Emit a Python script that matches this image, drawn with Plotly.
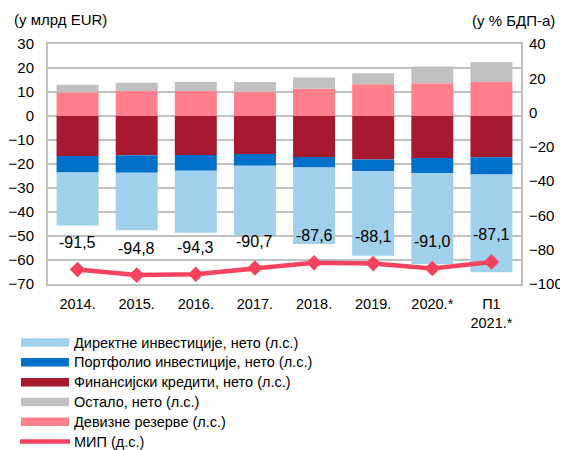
import plotly.graph_objects as go

categories = ["2014.", "2015.", "2016.", "2017.", "2018.", "2019.", "2020.*", "П1<br>2021.*"]
direct_inv = [-22.1, -24.0, -25.8, -28.9, -31.8, -35.3, -37.9, -40.7]
portfolio_inv = [-6.8, -7.2, -6.5, -4.9, -4.4, -4.8, -6.3, -7.2]
fin_credits = [-16.7, -16.4, -16.3, -15.8, -17.1, -18.1, -17.5, -17.2]
other_net = [3.1, 3.5, 3.9, 4.1, 4.6, 4.6, 7.0, 8.3]
fx_reserves = [9.9, 10.4, 10.4, 10.1, 11.4, 13.2, 13.6, 14.2]
mip = [-91.5, -94.8, -94.3, -90.7, -87.6, -88.1, -91.0, -87.1]
mip_labels = ["-91,5", "-94,8", "-94,3", "-90,7", "-87,6", "-88,1", "-91,0", "-87,1"]

names = ["Директне инвестиције, нето (л.с.)", "Портфолио инвестиције, нето (л.с.)",
         "Финансијски кредити, нето (л.с.)", "Остало, нето (л.с.)", "Девизне резерве (л.с.)",
         "МИП (д.с.)"]
colors = ["#A0D0EB", "#0070C8", "#A6192E", "#C0C0C0", "#FF808C", "#F5435F"]

FONT = "Arial, Liberation Sans, sans-serif"
xpos = list(range(len(categories)))

# page body has an 8px margin; design in reference pixels and shift
OFF = 8
W, H = 568 - OFF, 450 - OFF
PL, PR, PT, PB = 48 - OFF, 521 - OFF, 44 - OFF, 284 - OFF  # plot area in figure px
PW, PH = PR - PL, PB - PT


def px(xr):
    return (xr - OFF - PL) / PW


def py(yr):
    return (PB - (yr - OFF)) / PH


fig = go.Figure()

for vals, nm, col in [(fin_credits, names[2], colors[2]),
                      (portfolio_inv, names[1], colors[1]),
                      (direct_inv, names[0], colors[0]),
                      (fx_reserves, names[4], colors[4]),
                      (other_net, names[3], colors[3])]:
    fig.add_trace(go.Bar(x=xpos, y=vals, name=nm, marker_color=col,
                         marker_line_width=0, showlegend=False, yaxis="y"))

fig.add_trace(go.Scatter(x=xpos, y=mip, name=names[5], mode="lines+markers",
                         line=dict(color=colors[5], width=4.5),
                         marker=dict(symbol="diamond", size=12, color=colors[5]),
                         yaxis="y2", showlegend=False))

for xi, v, t in zip(xpos, mip, mip_labels):
    fig.add_annotation(x=xi, y=v, xref="x", yref="y2", text=t, showarrow=False, yshift=27,
                       font=dict(size=16, color="#000000", family=FONT))

# manual legend
row_y = [342.5, 362.3, 382.2, 402.0, 421.8, 441.6]
for i, (nm, col) in enumerate(zip(names, colors)):
    yc = py(row_y[i])
    if i < 5:
        fig.add_shape(type="rect", xref="paper", yref="paper",
                      x0=px(21), x1=px(69), y0=yc - 4.2 / PH, y1=yc + 4.2 / PH,
                      fillcolor=col, line_width=0)
    else:
        fig.add_shape(type="line", xref="paper", yref="paper",
                      x0=px(20), x1=px(70), y0=yc, y1=yc,
                      line=dict(color=col, width=4.5))
    fig.add_annotation(xref="paper", yref="paper", x=px(72), y=yc, text=nm,
                       showarrow=False, xanchor="left", yanchor="middle",
                       font=dict(size=14.5, color="#000000", family=FONT))

fig.add_annotation(xref="paper", yref="paper", x=px(12), y=py(20),
                   text="(у млрд EUR)", showarrow=False, xanchor="left", yanchor="middle",
                   font=dict(size=15, color="#000000", family=FONT))
fig.add_annotation(xref="paper", yref="paper", x=px(557), y=py(21),
                   text="(у % БДП-а)", showarrow=False, xanchor="right", yanchor="middle",
                   font=dict(size=15, color="#000000", family=FONT))

fig.update_layout(
    width=W, height=H,
    margin=dict(l=PL, r=W - PR, t=PT, b=H - PB, pad=0, autoexpand=False),
    barmode="relative", bargap=0.29,
    plot_bgcolor="#FFFFFF", paper_bgcolor="#FFFFFF",
    font=dict(family=FONT, size=15, color="#000000"),
    xaxis=dict(range=[-0.5, len(categories) - 0.5], tickvals=xpos, ticktext=categories,
               automargin=False, showgrid=False, zeroline=False, showline=True,
               linecolor="#C0C0C0", linewidth=2, mirror=True, ticks="",
               tickfont=dict(size=14.5), ticklabelstandoff=6),
    yaxis=dict(range=[-70, 30], dtick=10, automargin=False, showgrid=True,
               gridcolor="#C0C0C0", gridwidth=2,
               zeroline=True, zerolinecolor="#C0C0C0", zerolinewidth=2,
               showline=True, linecolor="#C0C0C0", linewidth=2, mirror=True,
               ticks="", ticklabelstandoff=9, tickfont=dict(size=15)),
    yaxis2=dict(range=[-100, 40], dtick=20, overlaying="y", side="right", automargin=False,
                showgrid=False, zeroline=False, showline=False, ticks="",
                ticklabelstandoff=7, tickfont=dict(size=15)),
    showlegend=False,
)

fig.write_html("out.html")
